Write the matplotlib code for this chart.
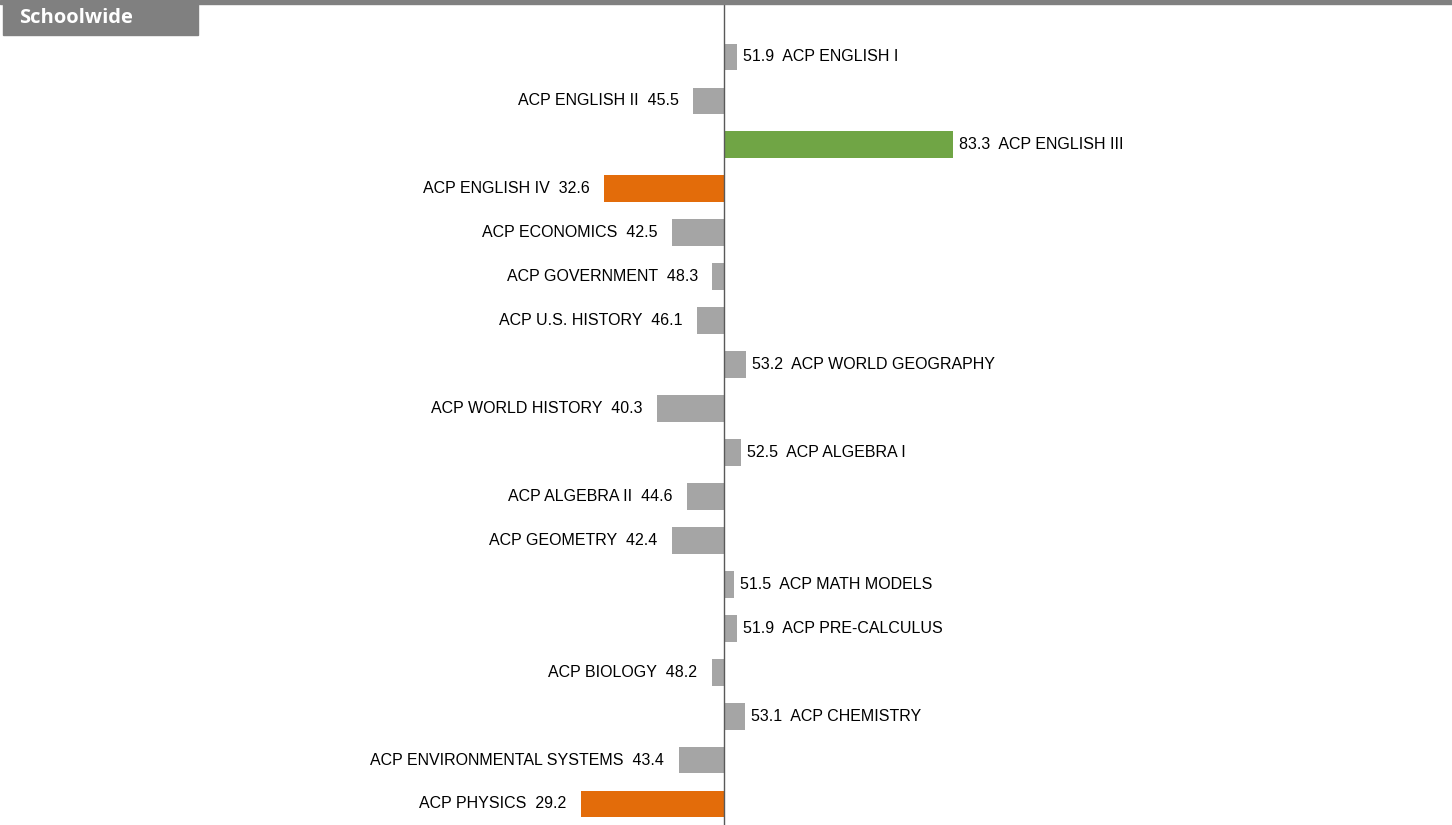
import matplotlib.pyplot as plt

# ACP course averages, centered on 50
courses = ['ACP ENGLISH I', 'ACP ENGLISH II', 'ACP ENGLISH III', 'ACP ENGLISH IV',
           'ACP ECONOMICS', 'ACP GOVERNMENT', 'ACP U.S. HISTORY', 'ACP WORLD GEOGRAPHY',
           'ACP WORLD HISTORY', 'ACP ALGEBRA I', 'ACP ALGEBRA II', 'ACP GEOMETRY',
           'ACP MATH MODELS', 'ACP PRE-CALCULUS', 'ACP BIOLOGY', 'ACP CHEMISTRY',
           'ACP ENVIRONMENTAL SYSTEMS', 'ACP PHYSICS']
scores = [51.9, 45.5, 83.3, 32.6, 42.5, 48.3, 46.1, 53.2, 40.3, 52.5, 44.6, 42.4,
          51.5, 51.9, 48.2, 53.1, 43.4, 29.2]
center = 50
high_cut = 70
low_cut = 35

gray = '#A5A5A5'
green = '#70A545'
orange = '#E36C0A'


def bar_color(v):
    if v >= high_cut:
        return green
    if v < low_cut:
        return orange
    return gray


fig = plt.figure(figsize=(14.52, 8.25), dpi=100)
ax = fig.add_axes([0, 0, 1, 1])
ax.set_xlim(-55.2, 155.8)
ax.set_ylim(17.478, -1.297)
ax.axis('off')

for i, (name, v) in enumerate(zip(courses, scores)):
    ax.barh(i, v - center, left=center, height=0.61, color=bar_color(v))
    if v >= center:
        ax.text(v + 0.9, i, f'{v:.1f}  {name}', ha='left', va='center',
                fontsize=11.5, family='Liberation Sans', color='black')
    else:
        ax.text(v - 2.1, i, f'{name}  {v:.1f}', ha='right', va='center',
                fontsize=11.5, family='Liberation Sans', color='black')

# center axis line
ax.plot([center, center], [-1.19, 17.478], color='#595959', lw=1.0)

# header band and tab
fig.patches.append(plt.Rectangle((0, 1 - 4 / 825), 1, 4 / 825, transform=fig.transFigure,
                                 color='#808080', zorder=5))
fig.patches.append(plt.Rectangle((3 / 1452, 1 - 35 / 825), 195 / 1452, 35 / 825,
                                 transform=fig.transFigure, color='#808080', zorder=5))
fig.text(19 / 1452, 1 - 18 / 825, 'Schoolwide', ha='left', va='center', color='white',
         fontsize=14.5, fontweight='bold', family='Open Sans', zorder=6)

fig.savefig('out.png', dpi=100)
